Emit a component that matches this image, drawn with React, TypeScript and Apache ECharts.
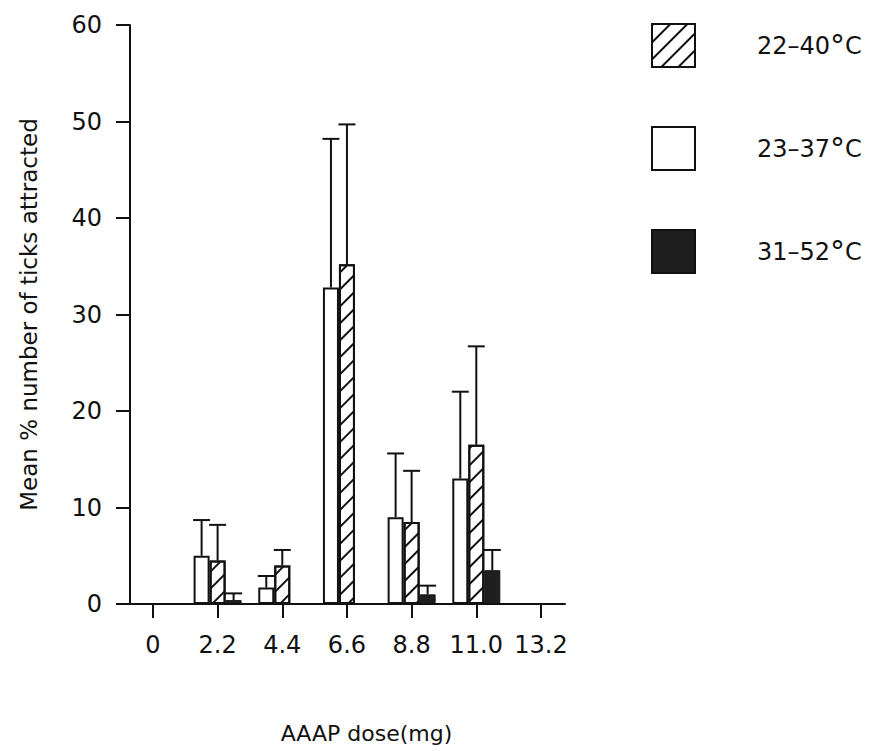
import React, { useEffect, useRef } from "react";
import * as echarts from "echarts";

const doses = ["0", "2.2", "4.4", "6.6", "8.8", "11.0", "13.2"];
const yTicks = [0, 10, 20, 30, 40, 50, 60];

const name2240 = "22–40°C";
const name2337 = "23–37°C";
const name3152 = "31–52°C";

// mean values
const white2337 = [null, 5.0, 1.7, 32.8, 9.0, 13.0, null];
const hatched2240 = [null, 4.5, 4.0, 35.2, 8.5, 16.5, null];
const black3152 = [null, 0.4, null, null, 1.0, 3.5, null];
// top of error bars
const white2337Err = [null, 8.7, 2.9, 48.2, 15.6, 22.0, null];
const hatched2240Err = [null, 8.2, 5.6, 49.7, 13.8, 26.7, null];
const black3152Err = [null, 1.1, null, null, 1.9, 5.6, null];

const FONT = "DejaVu Sans";
const INK = "#111111";
const BAR_W = 16;
const CAP_W = 17;

function errData(vals: (number | null)[], errs: (number | null)[], slot: number) {
  const out: number[][] = [];
  vals.forEach((v, i) => {
    const e = errs[i];
    if (v != null && e != null) out.push([i, v, e, slot]);
  });
  return out;
}

export default function App() {
  const ref = useRef<HTMLDivElement>(null);
  useEffect(() => {
    document.body.style.margin = "0";
    if (!ref.current) return;
    const chart = echarts.init(ref.current, undefined, { renderer: "svg" });

    const renderErr = (params: any, api: any) => {
      const ci = api.value(0);
      const v = api.value(1);
      const e = api.value(2);
      const k = api.value(3);
      const base = api.coord([ci, v]);
      const top = api.coord([ci, e]);
      const x = base[0] + (k - 1) * BAR_W;
      const st = { stroke: INK, lineWidth: 2 };
      return {
        type: "group",
        children: [
          { type: "line", shape: { x1: x, y1: base[1], x2: x, y2: top[1] }, style: st },
          { type: "line", shape: { x1: x - CAP_W / 2, y1: top[1], x2: x + CAP_W / 2, y2: top[1] }, style: st },
        ],
      };
    };

    const option: any = {
      animation: false,
      backgroundColor: "#ffffff",
      textStyle: { fontFamily: FONT, color: INK },
      legend: {
        orient: "vertical",
        left: 651,
        top: 23,
        padding: 0,
        itemWidth: 43,
        itemHeight: 43,
        itemGap: 58,
        icon: "rect",
        selectedMode: false,
        data: [name2240, name2337, name3152],
        formatter: (n: string) => n.replace("°", "{deg|°}"),
        textStyle: {
          fontFamily: FONT,
          fontSize: 24,
          color: INK,
          padding: [0, 0, 0, 57],
          rich: {
            deg: { fontFamily: FONT, fontSize: 30, color: INK },
          },
        },
      },
      grid: [
        { left: 120.6, right: 296.7, top: 25, bottom: 147 },
        { left: 130, right: 305, top: 25, bottom: 147 },
      ],
      xAxis: [
        {
          type: "category",
          gridIndex: 0,
          data: doses,
          boundaryGap: true,
          axisLine: { show: false },
          axisTick: { show: true, alignWithLabel: true, length: 14, lineStyle: { color: INK, width: 2 } },
          axisLabel: { fontFamily: FONT, fontSize: 24, color: INK, margin: 29, interval: 0 },
          splitLine: { show: false },
        },
        {
          type: "value",
          gridIndex: 1,
          min: 0,
          max: 1,
          axisLine: { show: true, onZero: false, lineStyle: { color: INK, width: 2 } },
          axisTick: { show: false },
          axisLabel: { show: false },
          splitLine: { show: false },
          name: "AAAP dose(mg)",
          nameLocation: "middle",
          nameGap: 118,
          nameTextStyle: { fontFamily: FONT, fontSize: 22, color: INK, padding: [0, 0, 0, 38] },
        },
      ],
      yAxis: [
        {
          type: "value",
          gridIndex: 0,
          min: 0,
          max: 60,
          interval: 10,
          show: false,
          splitLine: { show: false },
        },
        {
          type: "value",
          gridIndex: 1,
          min: 0,
          max: 60,
          interval: 10,
          axisLine: { show: true, onZero: false, lineStyle: { color: INK, width: 2 } },
          axisTick: { show: true, length: 14, lineStyle: { color: INK, width: 2 } },
          axisLabel: {
            fontFamily: FONT,
            fontSize: 24,
            color: INK,
            margin: 28,
            formatter: (v: number) => (yTicks.includes(v) ? String(v) : ""),
          },
          splitLine: { show: false },
          name: "Mean % number of ticks attracted",
          nameLocation: "middle",
          nameRotate: 90,
          nameGap: 90,
          nameTextStyle: { fontFamily: FONT, fontSize: 23, color: INK },
        },
      ],
      series: [
        {
          name: name2337,
          type: "bar",
          xAxisIndex: 0,
          yAxisIndex: 0,
          data: white2337,
          barWidth: BAR_W,
          barGap: "0%",
          itemStyle: { color: "#ffffff", borderColor: INK, borderWidth: 2 },
        },
        {
          name: name2240,
          type: "bar",
          xAxisIndex: 0,
          yAxisIndex: 0,
          data: hatched2240,
          barWidth: BAR_W,
          barGap: "0%",
          itemStyle: {
            color: "#ffffff",
            borderColor: INK,
            borderWidth: 2,
            decal: {
              symbol: "rect",
              symbolSize: 1,
              color: INK,
              backgroundColor: "#ffffff",
              dashArrayX: [1, 0],
              dashArrayY: [2, 10],
              rotation: -Math.PI / 4,
            },
          },
        },
        {
          name: name3152,
          type: "bar",
          xAxisIndex: 0,
          yAxisIndex: 0,
          data: black3152,
          barWidth: BAR_W,
          barGap: "0%",
          itemStyle: { color: "#1f1f1f", borderColor: INK, borderWidth: 1 },
        },
        {
          type: "custom",
          xAxisIndex: 0,
          yAxisIndex: 0,
          renderItem: renderErr,
          encode: { x: 0, y: [1, 2] },
          data: [
            ...errData(white2337, white2337Err, 0),
            ...errData(hatched2240, hatched2240Err, 1),
            ...errData(black3152, black3152Err, 2),
          ],
          z: 3,
        },
      ],
    };
    chart.setOption(option);
    return () => chart.dispose();
  }, []);
  return <div ref={ref} style={{ width: 870, height: 751 }} />;
}
